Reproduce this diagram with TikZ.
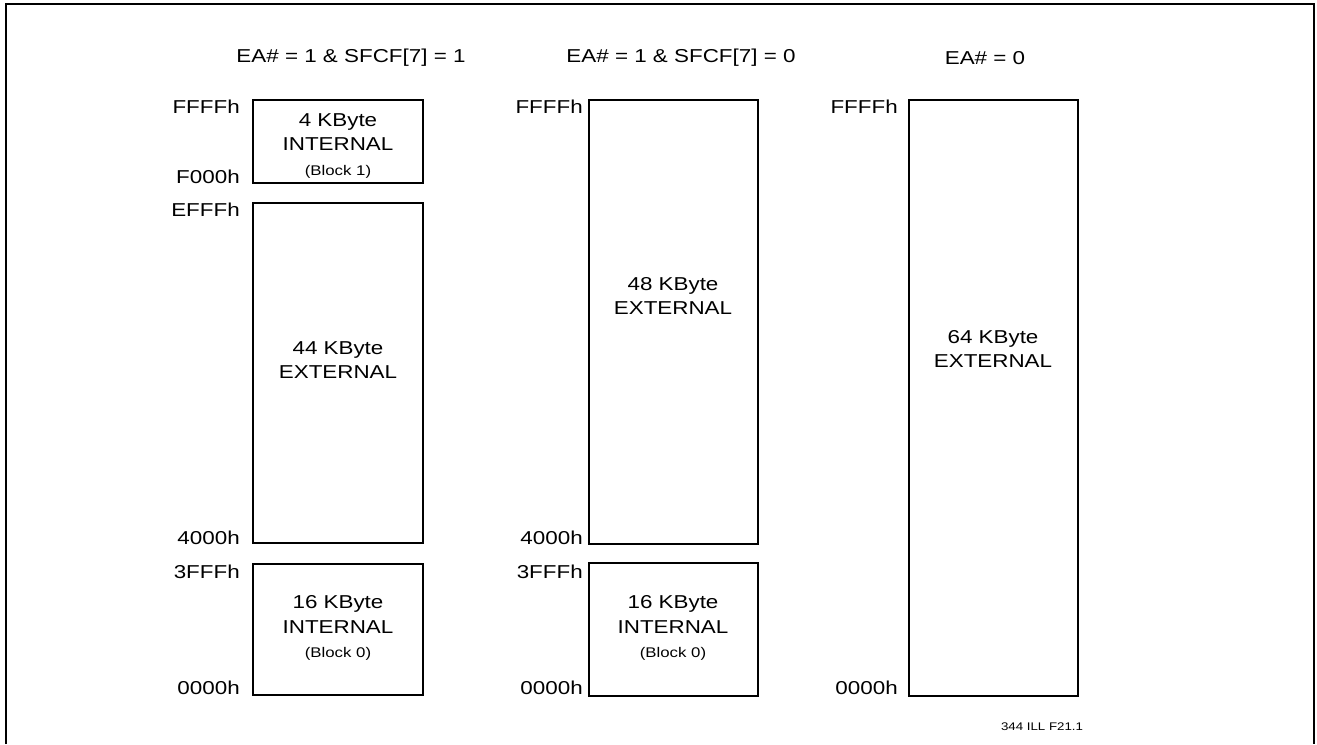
\documentclass[tikz,border=0pt]{standalone}
\usepackage{fontspec}
\setmainfont{Liberation Sans}[FakeStretch=1.2]
\usetikzlibrary{fit}
\begin{document}
\begin{tikzpicture}[x=0.75pt,y=-0.75pt,
  mem/.style={draw, line width=0.9pt, inner sep=0pt},
  txt/.style={font=\fontsize{14pt}{18.4pt}\selectfont, align=center, inner sep=0pt},
  addr/.style={font=\fontsize{14pt}{16pt}\selectfont, anchor=east, inner sep=0pt},
  ttl/.style={font=\fontsize{14pt}{16pt}\selectfont, inner sep=0pt},
  small/.style={font=\fontsize{10.5pt}{18.4pt}\selectfont}
]
\useasboundingbox (0,0) rectangle (1317,744);
% frame
\draw[line width=1.3pt] (6,744) -- (6,4) -- (1314,4) -- (1314,744);

% titles
\node[ttl] (t1) at (351,58) {EA\# = 1 \& SFCF[7] = 1};
\node[ttl] (t2) at (681,58) {EA\# = 1 \& SFCF[7] = 0};
\node[ttl] (t3) at (985,58) {EA\# = 0};

% column 1
\node[mem, fit={(253,100) (423,183)}] (c1a) {};
\node[mem, fit={(253,203) (423,543)}] (c1b) {};
\node[mem, fit={(253,564) (423,695)}] (c1c) {};
\node[txt] (c1at) at (338,146) {4 KByte\\INTERNAL\\{\fontsize{10.5pt}{18.4pt}\selectfont (Block 1)}};
\node[txt] (c1bt) at (338,360) {44 KByte\\EXTERNAL};
\node[txt] (c1ct) at (338,628) {16 KByte\\INTERNAL\\{\fontsize{10.5pt}{18.4pt}\selectfont (Block 0)}};
\node[addr] (l1a) at (240,107) {FFFFh};
\node[addr] (l1b) at (240,177) {F000h};
\node[addr] (l1c) at (240,210) {EFFFh};
\node[addr] (l1d) at (240,538) {4000h};
\node[addr] (l1e) at (240,572) {3FFFh};
\node[addr] (l1f) at (240,688) {0000h};

% column 2
\node[mem, fit={(589,100) (758,544)}] (c2a) {};
\node[mem, fit={(589,563) (758,696)}] (c2b) {};
\node[txt] (c2at) at (673,296) {48 KByte\\EXTERNAL};
\node[txt] (c2bt) at (673,628) {16 KByte\\INTERNAL\\{\fontsize{10.5pt}{18.4pt}\selectfont (Block 0)}};
\node[addr] (l2a) at (583,107) {FFFFh};
\node[addr] (l2b) at (583,538) {4000h};
\node[addr] (l2c) at (583,572) {3FFFh};
\node[addr] (l2d) at (583,688) {0000h};

% column 3
\node[mem, fit={(909,100) (1078,696)}] (c3a) {};
\node[txt] (c3at) at (993,349) {64 KByte\\EXTERNAL};
\node[addr] (l3a) at (898,107) {FFFFh};
\node[addr] (l3b) at (898,688) {0000h};

% figure id
\node[inner sep=0pt, font=\fontsize{8.3pt}{10pt}\selectfont] (fid) at (1042,727) {344 ILL F21.1};
\end{tikzpicture}
\end{document}
